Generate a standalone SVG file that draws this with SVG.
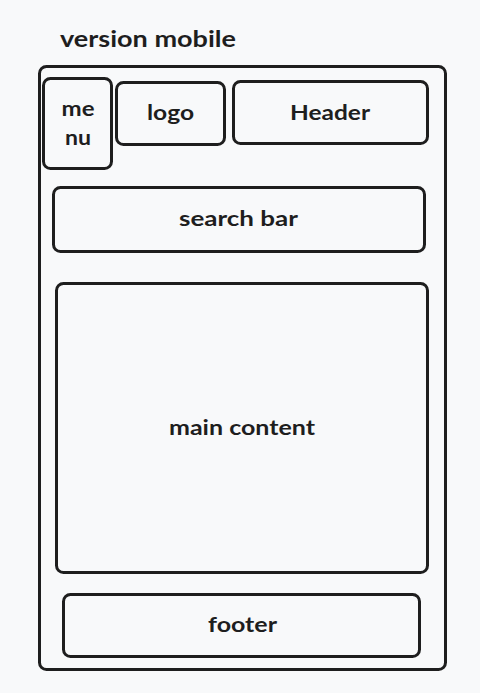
<svg xmlns="http://www.w3.org/2000/svg" width="480" height="693" viewBox="0 0 480 693">
  <style>
    .box { fill: none; stroke: #1e1e1e; stroke-width: 3; stroke-linejoin: round; }
    .lbl { font-family: "Lato", "Liberation Sans", sans-serif; font-weight: bold; font-size: 20px; fill: #1e1e1e; text-anchor: middle; }
    .title { font-family: "Lato", "Liberation Sans", sans-serif; font-weight: bold; font-size: 22px; fill: #1e1e1e; }
  </style>
  <rect x="0" y="0" width="480" height="693" fill="#f8f9fa"/>

  <g id="title">
    <text class="title" x="60" y="47" textLength="176" lengthAdjust="spacingAndGlyphs">version mobile</text>
  </g>

  <g id="frame">
    <rect class="box" x="39.5" y="66.5" width="406" height="603" rx="7"/>
  </g>

  <g id="menu">
    <rect class="box" x="43.5" y="78.5" width="68" height="90" rx="7"/>
    <text class="lbl" x="78" y="116" textLength="33" lengthAdjust="spacingAndGlyphs">me</text>
    <text class="lbl" x="78" y="145" textLength="26" lengthAdjust="spacingAndGlyphs">nu</text>
  </g>

  <g id="logo">
    <rect class="box" x="116.5" y="82.5" width="108" height="62" rx="7"/>
    <text class="lbl" x="170.5" y="120" textLength="47" lengthAdjust="spacingAndGlyphs">logo</text>
  </g>

  <g id="header">
    <rect class="box" x="233.5" y="81.5" width="194" height="62" rx="7"/>
    <text class="lbl" x="330" y="120" textLength="80" lengthAdjust="spacingAndGlyphs">Header</text>
  </g>

  <g id="search-bar">
    <rect class="box" x="53.5" y="187.5" width="371" height="64" rx="7"/>
    <text class="lbl" x="238.5" y="226" textLength="119" lengthAdjust="spacingAndGlyphs">search bar</text>
  </g>

  <g id="main-content">
    <rect class="box" x="56.5" y="283.5" width="371" height="289" rx="7"/>
    <text class="lbl" x="242" y="435" textLength="146" lengthAdjust="spacingAndGlyphs">main content</text>
  </g>

  <g id="footer">
    <rect class="box" x="63.5" y="594.5" width="356" height="62" rx="7"/>
    <text class="lbl" x="242.5" y="632" textLength="69" lengthAdjust="spacingAndGlyphs">footer</text>
  </g>

  <g id="connectors"></g>
</svg>
